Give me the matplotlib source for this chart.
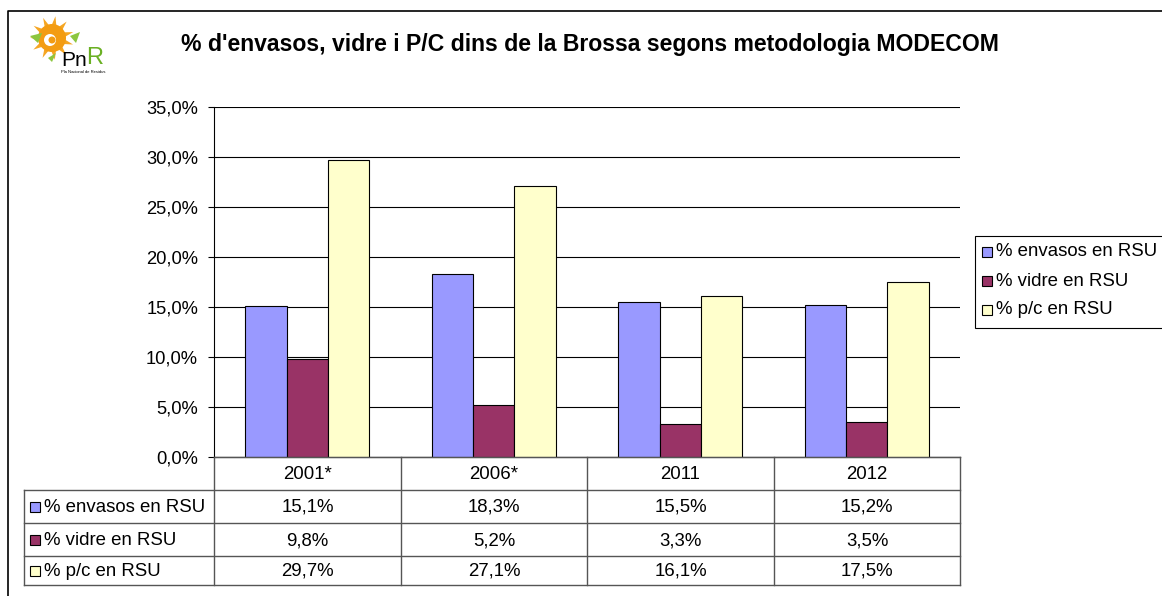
import matplotlib
matplotlib.use("Agg")
import matplotlib.pyplot as plt
from matplotlib.patches import Rectangle, Circle, Polygon
import numpy as np

plt.rcParams['font.family'] = ['Liberation Sans', 'DejaVu Sans']

categories = ["2001*", "2006*", "2011", "2012"]
series_names = ["% envasos en RSU", "% vidre en RSU", "% p/c en RSU"]
envasos = [15.1, 18.3, 15.5, 15.2]
vidre = [9.8, 5.2, 3.3, 3.5]
pc = [29.7, 27.1, 16.1, 17.5]
yticks = [0, 5, 10, 15, 20, 25, 30, 35]
title = "% d'envasos, vidre i P/C dins de la Brossa segons metodologia MODECOM"

series = [envasos, vidre, pc]
colors = ["#9999FF", "#993366", "#FFFFCC"]

W, H = 1162, 596
fig = plt.figure(figsize=(W / 100, H / 100), dpi=100)

def fx(px):
    return px / W

def fy(py):
    return 1 - py / H

FS = 13.4

# plot area
L, R, T, B = 214, 960, 107, 457
ax = fig.add_axes([fx(L), fy(B), fx(R) - fx(L), fy(T) - fy(B)])
n = len(categories)
x = np.arange(n)
bw = 0.222
for i, (vals, c) in enumerate(zip(series, colors)):
    ax.bar(x + (i - 1) * bw, vals, width=bw, color=c, edgecolor="black",
           linewidth=0.8, zorder=3, label=series_names[i])
ax.set_xlim(-0.5, n - 0.5)
ax.set_ylim(0, 35)
ax.set_yticks(yticks)
ax.set_yticklabels([f"{v:.1f}%".replace(".", ",") for v in yticks], fontsize=13.2)
ax.yaxis.grid(True, color="black", linewidth=0.8, zorder=0)
ax.set_xticks([])
for s in ["top", "right"]:
    ax.spines[s].set_visible(False)
ax.spines["left"].set_linewidth(0.8)
ax.spines["bottom"].set_linewidth(0.8)
ax.tick_params(axis="y", length=4.5, width=0.8, pad=7, color="black")

# overlay axes for table, border, title, legend
ov = fig.add_axes([0, 0, 1, 1], zorder=10)
ov.set_xlim(0, W)
ov.set_ylim(H, 0)
ov.axis("off")
ov.patch.set_alpha(0)

# outer border
ov.plot([8, 8, W + 5], [H + 5, 11, 11], color="black", lw=1.2)

# title
ov.text(590, 45, title, ha="center", va="center", fontsize=16.6, fontweight="bold")

# logo
sun_c = (52, 38)
for k in range(11):
    a = 2 * np.pi * k / 11 + 0.3
    a2 = a + 0.22
    a3 = a - 0.22
    pts = [(sun_c[0] + 22 * np.cos(a), sun_c[1] + 22 * np.sin(a)),
           (sun_c[0] + 12 * np.cos(a2), sun_c[1] + 12 * np.sin(a2)),
           (sun_c[0] + 12 * np.cos(a3), sun_c[1] + 12 * np.sin(a3))]
    ov.add_patch(Polygon(pts, closed=True, color="#F5A623", lw=0))
ov.add_patch(Circle(sun_c, 14, color="#F39C12", lw=0))
ov.add_patch(Circle((50, 40), 6, color="white", lw=0))
ov.add_patch(Circle((52, 40), 3.5, color="#F39C12", lw=0))
ov.add_patch(Polygon([(30, 36), (42, 33), (38, 43)], color="#8CC63F", lw=0))
ov.add_patch(Polygon([(70, 36), (80, 32), (76, 43)], color="#8CC63F", lw=0))
ov.add_patch(Polygon([(48, 58), (56, 53), (52, 62)], color="#8CC63F", lw=0))
ov.text(61, 60, "Pn", fontsize=15, color="black", ha="left", va="center")
ov.text(86, 58, "R", fontsize=17, color="#6AB023", ha="left", va="center")
ov.text(83, 72, "Pla Nacional de Residus", fontsize=3, color="black", ha="center", va="center")

# table
col_edges = [214, 401, 587, 774, 960]
row_edges = [457, 490, 523, 556, 585]
tl = 24
lc = "#555555"
lw = 1.0
for xe in col_edges:
    ov.plot([xe, xe], [row_edges[0], row_edges[-1]], color=lc, lw=lw)
ov.plot([tl, tl], [row_edges[1], row_edges[-1]], color=lc, lw=lw)
for j, ye in enumerate(row_edges):
    x0 = col_edges[0] if j == 0 else tl
    ov.plot([x0, col_edges[-1]], [ye, ye], color=lc, lw=lw)

for k, cat in enumerate(categories):
    cx = (col_edges[k] + col_edges[k + 1]) / 2
    ov.text(cx, (row_edges[0] + row_edges[1]) / 2 + 1, cat, ha="center", va="center", fontsize=FS)

for r, (vals, c, name) in enumerate(zip(series, colors, series_names)):
    cy = (row_edges[r + 1] + row_edges[r + 2]) / 2
    ov.add_patch(Rectangle((30, cy - 5), 10, 10, facecolor=c, edgecolor="black", lw=0.8))
    ov.text(44, cy + 1, name, ha="left", va="center", fontsize=FS)
    for k, v in enumerate(vals):
        cx = (col_edges[k] + col_edges[k + 1]) / 2
        ov.text(cx, cy + 1, f"{v:.1f}%".replace(".", ","), ha="center", va="center", fontsize=FS)

# legend
ov.add_patch(Rectangle((975, 236), 200, 92, facecolor="white", edgecolor="black", lw=0.8))
for r, (c, name) in enumerate(zip(colors, series_names)):
    cy = 252 + r * 29
    ov.add_patch(Rectangle((982, cy - 5), 10, 10, facecolor=c, edgecolor="black", lw=0.8))
    ov.text(996, cy, name, ha="left", va="center", fontsize=FS)

fig.savefig("out.png", dpi=100)
